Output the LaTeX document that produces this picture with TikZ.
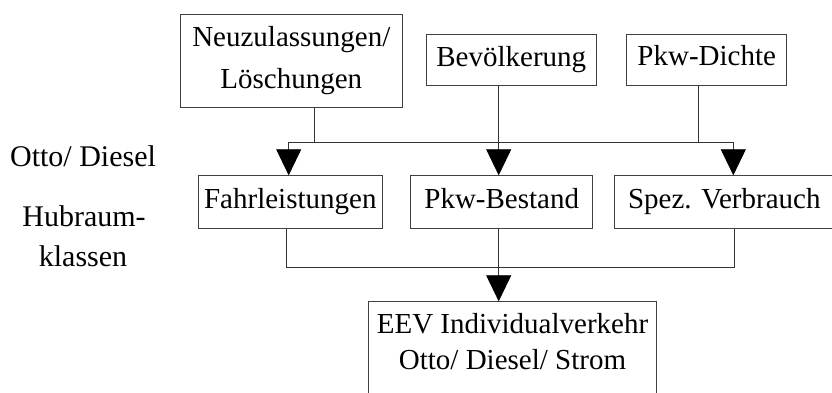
\documentclass[tikz,border=0pt]{standalone}
\usepackage{fontspec}
\setmainfont{Liberation Serif}
\usetikzlibrary{arrows.meta}
\begin{document}
\begin{tikzpicture}[x=1pt,y=-1pt,
  box/.style={draw=black!75, line width=0.8pt, inner sep=0pt, align=center,
    font=\fontsize{29}{42}\selectfont},
  single/.style={box, text height=20pt, text depth=8pt},
  link/.style={draw=black!80, line width=0.8pt},
  feed/.style={link, -{Triangle[width=25pt,length=26pt,color=black,fill=black]}},
  note/.style={font=\fontsize{30}{35}\selectfont, anchor=base, inner sep=0pt}]
\useasboundingbox (0,0) rectangle (832,392);
\clip (0,0) rectangle (832,392);

% input boxes
\node[box, minimum width=221.3pt, minimum height=93.7pt] (neu) at (291.35,60.8)
  {Neuzulassungen/\\Löschungen};
\node[single, minimum width=170.7pt, minimum height=51.4pt] (bev) at (511.3,60) {Bevölkerung};
\node[single, minimum width=160pt, minimum height=51.7pt] (dichte) at (706.7,59.8) {Pkw-Dichte};

% middle row
\node[single, minimum width=183.3pt, minimum height=52.6pt] (fahr) at (290.3,202) {Fahrleistungen};
\node[single, minimum width=182pt, minimum height=52.6pt] (bestand) at (501.7,202) {Pkw-Bestand};
\node[single, minimum width=220pt, minimum height=52.6pt] (spez) at (724.3,202) {Spez. Verbrauch};

% result box
\node[box, font=\fontsize{29}{36}\selectfont, minimum width=288.4pt, minimum height=96.3pt]
  (eev) at (512.5,349.85)
  {EEV Individualverkehr\\Otto/ Diesel/ Strom\rule[-17pt]{0pt}{17pt}};

% side notes
\node[note] (otto) at (83,166.7) {Otto/ Diesel};
\node[note] (hub) at (84,226) {Hubraum-};
\node[note] (kl) at (83,266.7) {klassen};

% bus positions
\coordinate (t1) at (288.7,142);
\coordinate (t2) at (733.3,142);
\coordinate (b1) at (286.7,267.7);
\coordinate (b2) at (734.3,267.7);
\coordinate (c) at (498.7,0);
\coordinate (nx) at (314.3,0);
\coordinate (dx) at (698.7,0);

% upper distribution
\draw[link] (t1) -- (t2);
\draw[link] (neu.south -| nx) -- (nx |- t1);
\draw[link] (dichte.south -| dx) -- (dx |- t1);
\draw[feed] (t1) -- (fahr.north -| t1);
\draw[feed] (t2) -- (spez.north -| t2);
\draw[feed] (bev.south -| c) -- (bestand.north -| c);

% lower collection
\draw[link] (fahr.south -| b1) -- (b1) -- (b2) -- (spez.south -| b2);
\draw[feed] (bestand.south -| c) -- (eev.north -| c);
\end{tikzpicture}
\end{document}
